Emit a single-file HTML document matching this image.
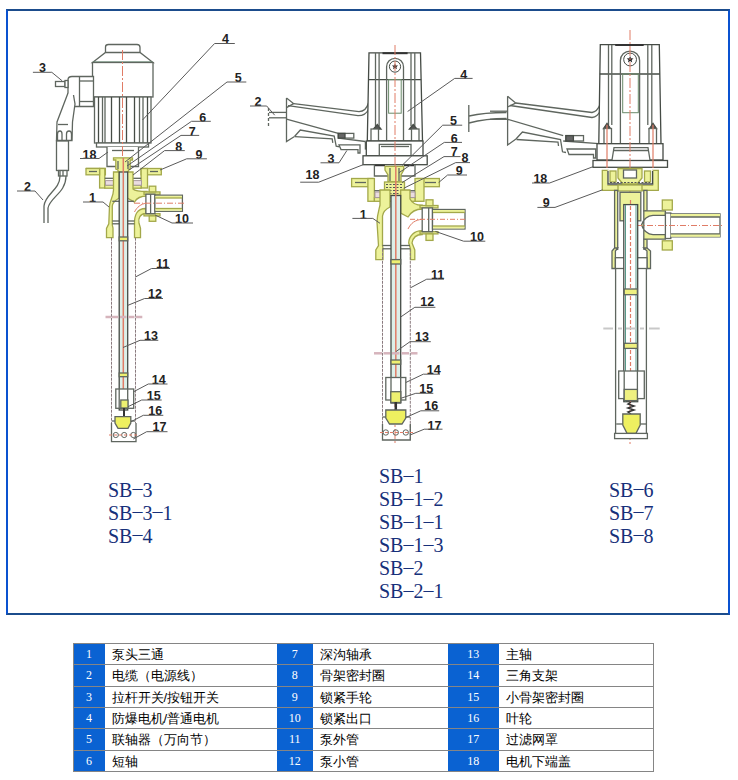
<!DOCTYPE html>
<html><head><meta charset="utf-8">
<style>
html,body{margin:0;padding:0;background:#fff;}
body{width:738px;height:780px;position:relative;overflow:hidden;font-family:"Liberation Sans",sans-serif;}
#frame{position:absolute;left:6px;top:9px;width:720px;height:602px;border-left:2px solid #0a52d0;border-right:2px solid #0a52d0;border-top:2px solid #1b4c8c;border-bottom:2px solid #1b4c8c;}
.lbl{position:absolute;font-family:"Liberation Serif",serif;font-size:20px;line-height:23px;color:#16307a;white-space:pre;}
.h{position:absolute;left:73px;width:581px;height:1px;background:#858585;}
.v{position:absolute;top:643px;width:1px;height:129px;background:#858585;}
.b{position:absolute;background:#0a62d2;color:#fff;font-family:"Liberation Serif",serif;font-size:12px;text-align:center;line-height:22px;}
.t{position:absolute;color:#000;font-size:13px;font-weight:500;line-height:22px;white-space:pre;}
svg{position:absolute;left:0;top:0;}
.lbl i{font-style:normal;position:relative;top:-1.7px;}
svg text{font-family:"Liberation Sans",sans-serif;}
</style></head><body>
<div id="frame"></div>
<svg width="738" height="620" viewBox="0 0 738 620">
<path d="M105.5,52.5 L105.5,47 Q105.5,44.5 108.5,44.5 L137,44.5 Q140,44.5 140,47.5 L140,52.5" fill="#fff" stroke="#5f665f" stroke-width="1.3" />
<polygon points="105.5,52.5 140,52.5 153,62.5 92.5,62.5" fill="#fff" stroke="#5f665f" stroke-width="1.3" />
<line x1="93" y1="62.5" x2="152.5" y2="62.5" stroke="#6f9a80" stroke-width="2" />
<rect x="92.5" y="62.5" width="60.5" height="34.5" fill="#fff" stroke="#5f665f" stroke-width="1.3" />
<rect x="94.5" y="97" width="56.5" height="46" fill="#fff" stroke="#5f665f" stroke-width="1.3" />
<line x1="98.5" y1="97" x2="98.5" y2="143" stroke="#454b45" stroke-width="1.3" />
<line x1="102.5" y1="97" x2="102.5" y2="143" stroke="#5f665f" stroke-width="1.3" />
<line x1="105" y1="97" x2="105" y2="143" stroke="#5f665f" stroke-width="1.3" />
<line x1="111.5" y1="97" x2="111.5" y2="143" stroke="#454b45" stroke-width="1.3" />
<line x1="119.5" y1="97" x2="119.5" y2="143" stroke="#454b45" stroke-width="1.3" />
<line x1="126.5" y1="97" x2="126.5" y2="143" stroke="#454b45" stroke-width="1.3" />
<line x1="134.5" y1="97" x2="134.5" y2="143" stroke="#454b45" stroke-width="1.3" />
<line x1="139.5" y1="97" x2="139.5" y2="143" stroke="#5f665f" stroke-width="1.3" />
<line x1="143" y1="97" x2="143" y2="143" stroke="#5f665f" stroke-width="1.3" />
<line x1="147.5" y1="97" x2="147.5" y2="143" stroke="#454b45" stroke-width="1.3" />
<rect x="96.5" y="143" width="52" height="4" fill="#fff" stroke="#5f665f" stroke-width="1.3" />
<path d="M107,147 L107,166.5 L138.5,166.5 L138.5,147" fill="#fff" stroke="#5f665f" stroke-width="1.3" />
<line x1="112" y1="150.5" x2="134" y2="150.5" stroke="#5f665f" stroke-width="1.3" />
<path d="M68,106.5 L68,80 Q68,76.5 72,76.5 L93.5,76.5 L93.5,106.5 Z" fill="#fff" stroke="#5f665f" stroke-width="1.3" />
<line x1="79.5" y1="76.5" x2="79.5" y2="106.5" stroke="#5f665f" stroke-width="1.3" />
<line x1="79.5" y1="81" x2="93.5" y2="81" stroke="#5f665f" stroke-width="1.3" />
<line x1="79.5" y1="101.5" x2="93.5" y2="101.5" stroke="#5f665f" stroke-width="1.3" />
<rect x="55.5" y="81.5" width="9.5" height="5" fill="#fff" stroke="#5f665f" stroke-width="1.3" />
<rect x="65" y="80.5" width="3" height="7" fill="#fff" stroke="#5f665f" stroke-width="1.3" />
<path d="M68,93 L57,122 L56.5,140.5 L72,140.5 L72.5,122 L75,104 L73.5,95" fill="#fff" stroke="#5f665f" stroke-width="1.3" />
<line x1="58" y1="124.5" x2="68" y2="124.5" stroke="#5f665f" stroke-width="1.3" />
<path d="M57.5,140 L57.5,134 Q57.5,131 60,131 Q62,131 62,134 L62,140" fill="none" stroke="#5f665f" stroke-width="1.3" />
<path d="M66.5,140 L66.5,134 Q66.5,131 69,131 Q71.5,131 71.5,134 L71.5,140" fill="none" stroke="#5f665f" stroke-width="1.3" />
<rect x="56.5" y="141" width="12" height="29.5" fill="#fff" stroke="#5f665f" stroke-width="1.3" />
<rect x="58.5" y="170.5" width="8.5" height="5.5" fill="#fff" stroke="#5f665f" stroke-width="1.3" />
<line x1="60" y1="171" x2="60" y2="176" stroke="#5f665f" stroke-width="1.3" />
<line x1="63" y1="171" x2="63" y2="176" stroke="#5f665f" stroke-width="1.3" />
<path d="M60,176 C60,190 45,194 44,206 L44,223" fill="none" stroke="#5f665f" stroke-width="1.3" />
<path d="M66,176 C66,193 50,197 48,208 L48,223" fill="none" stroke="#5f665f" stroke-width="1.3" />
<line x1="122.5" y1="50" x2="122.5" y2="180" stroke="#e07c66" stroke-width="1" stroke-dasharray="10,2,2,2"/>
<polygon points="113.5,157.8 132.5,157.8 132.5,160 130.2,160 130.2,169 128.4,170 128.4,176.5 118,176.5 118,170 115.8,169 115.8,160 113.5,160" fill="#edf29a" stroke="#a3a84a" stroke-width="1.3" />
<line x1="118" y1="161" x2="118" y2="169" stroke="#5f665f" stroke-width="1.3" />
<line x1="128" y1="161" x2="128" y2="169" stroke="#5f665f" stroke-width="1.3" />
<path d="M86,168.5 L105.4,168.5 L105.4,174.8 L99.6,174.8 Z" fill="#edf29a" stroke="#a3a84a" stroke-width="1.3" />
<rect x="99.6" y="168.5" width="5.2" height="19.5" fill="#edf29a" stroke="#a3a84a" stroke-width="1.3" />
<rect x="86" y="168.5" width="13.6" height="6.3" fill="#edf29a" stroke="#a3a84a" stroke-width="1.3" />
<line x1="89" y1="171.5" x2="97" y2="171.5" stroke="#5f665f" stroke-width="1.3" />
<rect x="141.1" y="168.5" width="20.2" height="6.3" fill="#edf29a" stroke="#a3a84a" stroke-width="1.3" />
<rect x="141.1" y="168.5" width="6.4" height="19.5" fill="#edf29a" stroke="#a3a84a" stroke-width="1.3" />
<line x1="150" y1="171.5" x2="158" y2="171.5" stroke="#5f665f" stroke-width="1.3" />
<line x1="104.8" y1="178.3" x2="114" y2="178.3" stroke="#5f665f" stroke-width="1.3" />
<line x1="133" y1="178.3" x2="141.1" y2="178.3" stroke="#5f665f" stroke-width="1.3" />
<rect x="104.8" y="185.2" width="36.3" height="3" fill="#edf29a" stroke="#a3a84a" stroke-width="1.3" />
<rect x="105.5" y="180.6" width="8.5" height="4.6" fill="#eadde0" stroke="#a89a9e" stroke-width="1" />
<rect x="133" y="180.6" width="8.5" height="4.6" fill="#eadde0" stroke="#a89a9e" stroke-width="1" />
<path d="M113.5,172 L119.2,172 L119.2,198 C116,200 112.5,202 112.3,206 L112.3,225 L113,228 L113,237.7 L106.5,237.7 L106.5,228.4 L108.8,223.8 L109.5,206 C110,200 113.5,196 113.5,190 Z" fill="#edf29a" stroke="#a3a84a" stroke-width="1.3" />
<path d="M127.3,172 L133,172 L133,189 C135,191 140,191.5 147,191.5 L147,196 C141,196 137,197.5 134.5,202 L127.3,198 Z" fill="#edf29a" stroke="#a3a84a" stroke-width="1.3" />
<path d="M145.7,208.5 L145.7,213.5 C140,214 138,218 139,223 L140.5,228.4 L140.5,237.7 L134.5,237.7 L134.5,225 C134,215 137,208.5 145.7,208.5 Z" fill="#edf29a" stroke="#a3a84a" stroke-width="1.3" />
<line x1="112.3" y1="201.3" x2="134" y2="201.3" stroke="#5f665f" stroke-width="1.3" />
<line x1="112.3" y1="221" x2="134.5" y2="221" stroke="#5f665f" stroke-width="1.3" />
<line x1="112.3" y1="223.8" x2="134.5" y2="223.8" stroke="#5f665f" stroke-width="1.3" />
<rect x="144" y="191.9" width="16" height="2.4" fill="#edf29a" stroke="#a3a84a" stroke-width="1.3" />
<rect x="144" y="213.7" width="16" height="2.2" fill="#edf29a" stroke="#a3a84a" stroke-width="1.3" />
<rect x="145.9" y="194.2" width="9" height="19.5" fill="#fff" stroke="#5f665f" stroke-width="1.3" />
<line x1="150.6" y1="194.2" x2="150.6" y2="213.7" stroke="#5f665f" stroke-width="1.3" />
<rect x="149.2" y="186.2" width="6.6" height="5.7" fill="#edf29a" stroke="#a3a84a" stroke-width="1.3" />
<rect x="149.2" y="215.9" width="6.6" height="5.4" fill="#edf29a" stroke="#a3a84a" stroke-width="1.3" />
<rect x="154.9" y="195.2" width="27.5" height="16.1" fill="#fff" stroke="#5f665f" stroke-width="1.3" />
<rect x="155.5" y="195.8" width="26.4" height="2.2" fill="#edf29a" stroke="none" stroke-width="0" />
<rect x="155.5" y="208.5" width="26.4" height="2.2" fill="#edf29a" stroke="none" stroke-width="0" />
<line x1="155" y1="198" x2="182" y2="198" stroke="#a3a84a" stroke-width="1.3" />
<line x1="155" y1="208.5" x2="182" y2="208.5" stroke="#a3a84a" stroke-width="1.3" />
<line x1="134" y1="203.2" x2="184" y2="203.2" stroke="#e07c66" stroke-width="1" stroke-dasharray="6,2,1,2"/>
<path d="M134.5,212 C137,207 141,204 146,203.2" fill="none" stroke="#e07c66" stroke-width="1" />
<line x1="111.5" y1="237.7" x2="111.5" y2="423" stroke="#8a7a7e" stroke-width="1" stroke-dasharray="3,1"/>
<line x1="135.5" y1="237.7" x2="135.5" y2="423" stroke="#8a7a7e" stroke-width="1" stroke-dasharray="3,1"/>
<rect x="119.2" y="172" width="8.5" height="238" fill="#dcefe8" stroke="#454b45" stroke-width="1.3" />
<line x1="123.3" y1="158" x2="123.3" y2="410" stroke="#e07c66" stroke-width="1.5" />
<rect x="119.2" y="237" width="8.5" height="3.8" fill="#eef070" stroke="#5f665f" stroke-width="1.3" />
<rect x="119.2" y="373" width="8.5" height="3.7" fill="#eef070" stroke="#5f665f" stroke-width="1.3" />
<line x1="105.5" y1="317" x2="111" y2="317" stroke="#d6b4bc" stroke-width="2.5" />
<line x1="112" y1="317" x2="118.5" y2="317" stroke="#d6b4bc" stroke-width="2.5" />
<line x1="120" y1="317" x2="126.5" y2="317" stroke="#d6b4bc" stroke-width="2.5" />
<line x1="128" y1="317" x2="134.5" y2="317" stroke="#d6b4bc" stroke-width="2.5" />
<line x1="136" y1="317" x2="142.3" y2="317" stroke="#d6b4bc" stroke-width="2.5" />
<rect x="115.8" y="389" width="17.9" height="19.3" fill="#fff" stroke="#5f665f" stroke-width="1.3" />
<line x1="119.2" y1="389" x2="119.2" y2="408.3" stroke="#5f665f" stroke-width="1.3" />
<line x1="127.7" y1="389" x2="127.7" y2="408.3" stroke="#5f665f" stroke-width="1.3" />
<rect x="120.8" y="400" width="7.2" height="8" fill="#eef070" stroke="#5f665f" stroke-width="1.3" />
<line x1="124" y1="408" x2="124" y2="420" stroke="#333" stroke-width="2" />
<path d="M115,416.7 L130.8,416.7 L130.8,423 L128,428.3 L118,428.3 L115,423 Z" fill="#eef060" stroke="#5f665f" stroke-width="1.3" />
<line x1="112" y1="421" x2="115" y2="421" stroke="#5f665f" stroke-width="1.3" />
<line x1="131" y1="421" x2="135" y2="421" stroke="#5f665f" stroke-width="1.3" />
<path d="M111.5,423 L111.5,441.7 L136,441.7 L136,423" fill="none" stroke="#5f665f" stroke-width="1.3" />
<circle cx="115.8" cy="435" r="2.6" fill="none" stroke="#5f665f" stroke-width="1"/>
<circle cx="124.2" cy="435" r="2.6" fill="none" stroke="#5f665f" stroke-width="1"/>
<circle cx="133.3" cy="435" r="2.6" fill="none" stroke="#5f665f" stroke-width="1"/>
<line x1="109" y1="435" x2="138" y2="435" stroke="#e07c66" stroke-width="1" stroke-dasharray="3,2"/>
<text x="222" y="43.2" font-size="12.5" fill="#222222" font-weight="bold">4</text>
<polyline points="234.8,43.5 214.6,43.5 142.5,120" fill="none" stroke="#5a5a5a" stroke-width="1" />
<text x="234.8" y="81.8" font-size="12.5" fill="#222222" font-weight="bold">5</text>
<polyline points="246.3,82 227,82 125,162" fill="none" stroke="#5a5a5a" stroke-width="1" />
<text x="199.2" y="122.2" font-size="12.5" fill="#222222" font-weight="bold">6</text>
<polyline points="210.8,121.3 191.5,121.3 127,166" fill="none" stroke="#5a5a5a" stroke-width="1" />
<text x="188.7" y="136.2" font-size="12.5" fill="#222222" font-weight="bold">7</text>
<polyline points="199.2,135.4 181,135.4 129,170" fill="none" stroke="#5a5a5a" stroke-width="1" />
<text x="175.2" y="151.0" font-size="12.5" fill="#222222" font-weight="bold">8</text>
<polyline points="184.8,150.6 164.6,150.6 133,175" fill="none" stroke="#5a5a5a" stroke-width="1" />
<text x="195.4" y="158.7" font-size="12.5" fill="#222222" font-weight="bold">9</text>
<polyline points="206.9,158.8 186.7,158.8 160,170" fill="none" stroke="#5a5a5a" stroke-width="1" />
<text x="39" y="72.2" font-size="12.5" fill="#222222" font-weight="bold">3</text>
<polyline points="32.9,72.3 51.8,72.3 62,80.7" fill="none" stroke="#5a5a5a" stroke-width="1" />
<text x="24" y="190.79999999999998" font-size="12.5" fill="#222222" font-weight="bold">2</text>
<polyline points="17,191 35,191 43,200" fill="none" stroke="#5a5a5a" stroke-width="1" />
<text x="82.5" y="159.0" font-size="12.5" fill="#222222" font-weight="bold">18</text>
<polyline points="80,158.5 99,158.5 108,152" fill="none" stroke="#5a5a5a" stroke-width="1" />
<text x="89" y="201.7" font-size="12.5" fill="#222222" font-weight="bold">1</text>
<polyline points="83,202 103,202 109,207" fill="none" stroke="#5a5a5a" stroke-width="1" />
<text x="175" y="223.1" font-size="12.5" fill="#222222" font-weight="bold">10</text>
<polyline points="193,223 172,223 155,215" fill="none" stroke="#5a5a5a" stroke-width="1" />
<text x="156" y="268.2" font-size="12.5" fill="#222222" font-weight="bold">11</text>
<polyline points="170,268.5 151.5,268.5 135.4,277" fill="none" stroke="#5a5a5a" stroke-width="1" />
<text x="148" y="298.2" font-size="12.5" fill="#222222" font-weight="bold">12</text>
<polyline points="163,298.5 144.6,298.5 127.7,305.4" fill="none" stroke="#5a5a5a" stroke-width="1" />
<text x="144" y="340.2" font-size="12.5" fill="#222222" font-weight="bold">13</text>
<polyline points="158.3,340.3 140,340.3 123,347.5" fill="none" stroke="#5a5a5a" stroke-width="1" />
<text x="151.7" y="383.7" font-size="12.5" fill="#222222" font-weight="bold">14</text>
<polyline points="167.5,384 148.3,384 133.7,391.7" fill="none" stroke="#5a5a5a" stroke-width="1" />
<text x="146.7" y="399.5" font-size="12.5" fill="#222222" font-weight="bold">15</text>
<polyline points="161.7,400 141.7,400 128,406.7" fill="none" stroke="#5a5a5a" stroke-width="1" />
<text x="148.3" y="414.5" font-size="12.5" fill="#222222" font-weight="bold">16</text>
<polyline points="163.3,415.3 143.3,415.3 131,421.7" fill="none" stroke="#5a5a5a" stroke-width="1" />
<text x="152.5" y="431.2" font-size="12.5" fill="#222222" font-weight="bold">17</text>
<polyline points="167.5,431.7 146.7,431.7 133.3,439" fill="none" stroke="#5a5a5a" stroke-width="1" />
<line x1="468.8" y1="105" x2="468.8" y2="132" stroke="#5f665f" stroke-width="1.3" />
<path d="M469,116 C482,113 495,112.5 506.5,112.5" fill="none" stroke="#5f665f" stroke-width="1.3" />
<path d="M469,123 C482,119.5 495,118.5 506.5,118.5" fill="none" stroke="#5f665f" stroke-width="1.3" />
<line x1="268.5" y1="108" x2="268.5" y2="128" stroke="#5f665f" stroke-width="1.3" stroke-dasharray="3,2"/>
<line x1="269" y1="112.4" x2="286.5" y2="112.4" stroke="#5f665f" stroke-width="1.3" />
<line x1="269" y1="117.8" x2="286.5" y2="117.8" stroke="#5f665f" stroke-width="1.3" />
<path d="M286.5,98.1 L286.5,141.5 L294.5,136.5" fill="none" stroke="#5f665f" stroke-width="1.3" />
<path d="M286.5,98.1 L293.6,103.6 L286.5,107.6" fill="none" stroke="#5f665f" stroke-width="1.3" />
<path d="M293.6,103.6 L359,111.7 C364,111.5 367,108 368.5,103" fill="none" stroke="#5f665f" stroke-width="1.3" />
<path d="M288,105.6 L358,115.7 C364,115.7 367,113 368.8,109" fill="none" stroke="#5f665f" stroke-width="1.3" />
<path d="M286.5,119.1 L338.3,133.4" fill="none" stroke="#5f665f" stroke-width="1.3" />
<path d="M294.5,136.5 L300.3,130 L334.2,136 L336.2,146.2 L339.6,146.9" fill="none" stroke="#5f665f" stroke-width="1.3" />
<path d="M294.9,136.7 L332.2,138.8 L332.8,142.8" fill="none" stroke="#5f665f" stroke-width="1.3" />
<line x1="338.3" y1="138.1" x2="365.4" y2="141.5" stroke="#5f665f" stroke-width="1.3" />
<rect x="338.3" y="133.4" width="15.5" height="4.7" fill="#fff" stroke="#5f665f" stroke-width="1.3" />
<rect x="338.3" y="133.4" width="6.7" height="4.7" fill="#666" stroke="#454b45" stroke-width="1.3" />
<path d="M339,144.9 L360,144.9 L360,153 L358,153 L358,149.6 L341,149.6 Z" fill="#fff" stroke="#5f665f" stroke-width="1.3" />
<line x1="365.4" y1="141.5" x2="365.4" y2="149.6" stroke="#5f665f" stroke-width="1.3" />
<path d="M369,52.9 L420.5,52.9 L422.5,141 L367.3,141 Z" fill="#fff" stroke="#454b45" stroke-width="1.3" />
<line x1="382.5" y1="53.2" x2="407.6" y2="53.2" stroke="#333" stroke-width="2" />
<line x1="368.4" y1="79.6" x2="421.2" y2="79.6" stroke="#454b45" stroke-width="1.3" />
<line x1="375.5" y1="53" x2="375.5" y2="126" stroke="#5f665f" stroke-width="1.3" />
<line x1="379.1" y1="53" x2="379.1" y2="126" stroke="#5f665f" stroke-width="1.3" />
<line x1="411" y1="53" x2="411" y2="126" stroke="#5f665f" stroke-width="1.3" />
<line x1="414.8" y1="53" x2="414.8" y2="126" stroke="#5f665f" stroke-width="1.3" />
<path d="M386.6,141 L386.6,66.8 A8.45,8.45 0 0 1 403.5,66.8 L403.5,141" fill="none" stroke="#5f665f" stroke-width="1.3" />
<circle cx="395" cy="66.6" r="5.6" fill="none" stroke="#454b45" stroke-width="1"/>
<polygon points="395.0,63.4 395.85,65.44 398.04,65.61 396.37,67.04 396.88,69.19 395.0,68.04 393.12,69.19 393.63,67.04 391.96,65.61 394.15,65.44" fill="#222" stroke="none" stroke-width="0" />
<rect x="388.6" y="79.6" width="12.6" height="33.6" fill="none" stroke="#6a8a6a" stroke-width="1" />
<polygon points="373.5,129 377.3,124.5 381,129" fill="#555" stroke="#454b45" stroke-width="1.3" />
<polygon points="409.5,129 413.2,124.5 417,129" fill="#555" stroke="#454b45" stroke-width="1.3" />
<rect x="371" y="129" width="7.5" height="12" fill="#fff" stroke="#5f665f" stroke-width="1.3" />
<rect x="411.5" y="129" width="7.5" height="12" fill="#fff" stroke="#5f665f" stroke-width="1.3" />
<rect x="366.3" y="141" width="56.7" height="14.8" fill="#fff" stroke="#454b45" stroke-width="1.3" />
<rect x="379.3" y="144.4" width="31.7" height="11.4" fill="#fff" stroke="#5f665f" stroke-width="1.3" />
<line x1="381" y1="146.5" x2="409" y2="146.5" stroke="#5f665f" stroke-width="1.3" />
<rect x="363" y="155.8" width="64.2" height="8.9" fill="#fff" stroke="#454b45" stroke-width="1.3" />
<path d="M374.4,164.7 L374.4,176 L415,176 L415,164.7" fill="none" stroke="#5f665f" stroke-width="1.3" />
<line x1="375" y1="165.5" x2="385" y2="165.5" stroke="#333" stroke-width="1.5" />
<line x1="404" y1="165.5" x2="414" y2="165.5" stroke="#333" stroke-width="1.5" />
<line x1="395" y1="45" x2="395" y2="445" stroke="#e07c66" stroke-width="1" stroke-dasharray="10,2,2,2"/>
<path d="M385,166.3 L403.7,166.3 L403.7,170 L401,175 L401,181.8 L388,181.8 L388,175 L385,170 Z" fill="#edf29a" stroke="#a3a84a" stroke-width="1.3" />
<line x1="390" y1="168" x2="390" y2="181" stroke="#5f665f" stroke-width="1.3" />
<line x1="399" y1="168" x2="399" y2="181" stroke="#5f665f" stroke-width="1.3" />
<rect x="384.5" y="182" width="20" height="13.5" fill="#edf29a" stroke="#a3a84a" stroke-width="1.3" />
<line x1="386" y1="184.5" x2="403" y2="184.5" stroke="#555" stroke-width="1" stroke-dasharray="2,1.5"/>
<line x1="386" y1="187.5" x2="403" y2="187.5" stroke="#555" stroke-width="1" stroke-dasharray="2,1.5"/>
<line x1="386" y1="190.5" x2="403" y2="190.5" stroke="#555" stroke-width="1" stroke-dasharray="2,1.5"/>
<line x1="386" y1="193.5" x2="403" y2="193.5" stroke="#555" stroke-width="1" stroke-dasharray="2,1.5"/>
<rect x="351.6" y="178.5" width="21.2" height="8.2" fill="#edf29a" stroke="#a3a84a" stroke-width="1.3" />
<rect x="367.9" y="178.5" width="6.5" height="22.8" fill="#edf29a" stroke="#a3a84a" stroke-width="1.3" />
<line x1="355" y1="182.5" x2="366" y2="182.5" stroke="#5f665f" stroke-width="1.3" />
<rect x="417.5" y="178.5" width="21.9" height="8.2" fill="#edf29a" stroke="#a3a84a" stroke-width="1.3" />
<rect x="415" y="178.5" width="9" height="22.8" fill="#edf29a" stroke="#a3a84a" stroke-width="1.3" />
<line x1="425" y1="182.5" x2="436" y2="182.5" stroke="#5f665f" stroke-width="1.3" />
<line x1="374.4" y1="190.7" x2="380" y2="190.7" stroke="#5f665f" stroke-width="1.3" />
<line x1="410" y1="190.7" x2="415" y2="190.7" stroke="#5f665f" stroke-width="1.3" />
<rect x="374.4" y="197.5" width="40.6" height="3.8" fill="#edf29a" stroke="#a3a84a" stroke-width="1.3" />
<rect x="375" y="192" width="6" height="5.5" fill="#eadde0" stroke="#a89a9e" stroke-width="1" />
<rect x="409" y="192" width="6" height="5.5" fill="#eadde0" stroke="#a89a9e" stroke-width="1" />
<path d="M380,190 L390,190 L390,207 C386,209 383,212 382.5,216 L382.5,245.5 L383,248.8 L383,259.6 L375.8,259.6 L375.8,250 L378.5,245.5 L377,222 C377,215 379,210 380,205 Z" fill="#edf29a" stroke="#a3a84a" stroke-width="1.3" />
<path d="M400.7,190 L410,190 L410,199 C412,203 416,205.2 422,205.2 L422.2,205.2 L422.2,209 C415,209 411,212 408,217 L400.7,213 Z" fill="#edf29a" stroke="#a3a84a" stroke-width="1.3" />
<path d="M422.2,230.7 L422.2,234.5 C416,234.5 413,237 412,243 L414.8,250 L414.8,259.6 L410.5,259.6 L410.5,248.8 L408.7,243 C409,236 414,230.7 422.2,230.7 Z" fill="#edf29a" stroke="#a3a84a" stroke-width="1.3" />
<line x1="382.5" y1="245.5" x2="410" y2="245.5" stroke="#5f665f" stroke-width="1.3" />
<line x1="382.5" y1="248.8" x2="410" y2="248.8" stroke="#5f665f" stroke-width="1.3" />
<rect x="420" y="205.5" width="18" height="2.4" fill="#edf29a" stroke="#a3a84a" stroke-width="1.3" />
<rect x="420" y="231.7" width="18" height="2.2" fill="#edf29a" stroke="#a3a84a" stroke-width="1.3" />
<rect x="422.2" y="207.9" width="10.3" height="23.8" fill="#fff" stroke="#5f665f" stroke-width="1.3" />
<line x1="428.7" y1="207.9" x2="428.7" y2="231.7" stroke="#5f665f" stroke-width="1.3" />
<rect x="426" y="199.8" width="7" height="6" fill="#edf29a" stroke="#a3a84a" stroke-width="1.3" />
<rect x="426" y="233.9" width="7" height="6.5" fill="#edf29a" stroke="#a3a84a" stroke-width="1.3" />
<rect x="432.5" y="209.5" width="32.5" height="19.5" fill="#fff" stroke="#5f665f" stroke-width="1.3" />
<rect x="433" y="210" width="31.5" height="2.3" fill="#edf29a" stroke="none" stroke-width="0" />
<rect x="433" y="226.2" width="31.5" height="2.3" fill="#edf29a" stroke="none" stroke-width="0" />
<line x1="433" y1="212.5" x2="465" y2="212.5" stroke="#a3a84a" stroke-width="1.3" />
<line x1="433" y1="226" x2="465" y2="226" stroke="#a3a84a" stroke-width="1.3" />
<line x1="410" y1="219.3" x2="466" y2="219.3" stroke="#e07c66" stroke-width="1" stroke-dasharray="5,2,1,2"/>
<path d="M408,229 C411,223 415,220 422,219.3" fill="none" stroke="#e07c66" stroke-width="1" />
<line x1="382.5" y1="248.8" x2="382.5" y2="440" stroke="#8a7a7e" stroke-width="1" stroke-dasharray="3,1"/>
<line x1="410.3" y1="248.8" x2="410.3" y2="440" stroke="#8a7a7e" stroke-width="1" stroke-dasharray="3,1"/>
<rect x="391" y="195.5" width="9.7" height="207.5" fill="#dcefe8" stroke="#454b45" stroke-width="1.3" />
<line x1="395.8" y1="166" x2="395.8" y2="403" stroke="#e07c66" stroke-width="1.5" />
<rect x="391" y="259.6" width="9.7" height="4.4" fill="#eef070" stroke="#5f665f" stroke-width="1.3" />
<rect x="391" y="360" width="9.7" height="4.2" fill="#eef070" stroke="#5f665f" stroke-width="1.3" />
<line x1="374" y1="353.3" x2="382" y2="353.3" stroke="#d6b4bc" stroke-width="2.5" />
<line x1="383.5" y1="353.3" x2="390" y2="353.3" stroke="#d6b4bc" stroke-width="2.5" />
<line x1="392" y1="353.3" x2="399.5" y2="353.3" stroke="#d6b4bc" stroke-width="2.5" />
<line x1="401.5" y1="353.3" x2="409" y2="353.3" stroke="#d6b4bc" stroke-width="2.5" />
<line x1="411" y1="353.3" x2="417.5" y2="353.3" stroke="#d6b4bc" stroke-width="2.5" />
<rect x="385.8" y="377.5" width="20" height="22.5" fill="#fff" stroke="#5f665f" stroke-width="1.3" />
<line x1="391" y1="377.5" x2="391" y2="400" stroke="#5f665f" stroke-width="1.3" />
<line x1="400.7" y1="377.5" x2="400.7" y2="400" stroke="#5f665f" stroke-width="1.3" />
<rect x="390.8" y="391.7" width="10" height="10.8" fill="#eef070" stroke="#5f665f" stroke-width="1.3" />
<line x1="395.8" y1="402" x2="395.8" y2="412" stroke="#333" stroke-width="2.5" />
<path d="M385.8,410 L405.8,410 L405.8,418 L402,424 L389.5,424 L385.8,418 Z" fill="#eef060" stroke="#5f665f" stroke-width="1.3" />
<line x1="382.5" y1="417" x2="385.8" y2="417" stroke="#5f665f" stroke-width="1.3" />
<line x1="405.8" y1="417" x2="410" y2="417" stroke="#5f665f" stroke-width="1.3" />
<path d="M382.5,424 L382.5,440 L410.3,440 L410.3,424" fill="none" stroke="#5f665f" stroke-width="1.3" />
<circle cx="385.8" cy="432.5" r="2.7" fill="none" stroke="#5f665f" stroke-width="1"/>
<circle cx="395.8" cy="432.5" r="2.7" fill="none" stroke="#5f665f" stroke-width="1"/>
<circle cx="405.8" cy="432.5" r="2.7" fill="none" stroke="#5f665f" stroke-width="1"/>
<line x1="380" y1="432.5" x2="413" y2="432.5" stroke="#e07c66" stroke-width="1" stroke-dasharray="3,2"/>
<text x="254.4" y="105.9" font-size="12.5" fill="#222222" font-weight="bold">2</text>
<polyline points="250,106 266.7,106 274.7,115.2" fill="none" stroke="#5a5a5a" stroke-width="1" />
<text x="327.5" y="163.1" font-size="12.5" fill="#222222" font-weight="bold">3</text>
<polyline points="320.5,162.8 339,162.8 346.9,150.5" fill="none" stroke="#5a5a5a" stroke-width="1" />
<text x="305.5" y="179.0" font-size="12.5" fill="#222222" font-weight="bold">18</text>
<polyline points="300.2,182.2 318.7,182.2 363.6,164.5" fill="none" stroke="#5a5a5a" stroke-width="1" />
<text x="460.2" y="78.5" font-size="12.5" fill="#222222" font-weight="bold">4</text>
<polyline points="472.6,78.4 454.7,78.4 407.6,111.5" fill="none" stroke="#5a5a5a" stroke-width="1" />
<text x="450" y="125.2" font-size="12.5" fill="#222222" font-weight="bold">5</text>
<polyline points="462.2,125.2 442.7,125.2 402,165.5" fill="none" stroke="#5a5a5a" stroke-width="1" />
<text x="450.8" y="143.2" font-size="12.5" fill="#222222" font-weight="bold">6</text>
<polyline points="462,142.4 444.3,142.4 398.8,172.8" fill="none" stroke="#5a5a5a" stroke-width="1" />
<text x="450.8" y="156.2" font-size="12.5" fill="#222222" font-weight="bold">7</text>
<polyline points="460.5,156.6 444,156.6 402,182.6" fill="none" stroke="#5a5a5a" stroke-width="1" />
<text x="461.4" y="161.79999999999998" font-size="12.5" fill="#222222" font-weight="bold">8</text>
<polyline points="470,162.6 455.7,162.6 403.7,188.3" fill="none" stroke="#5a5a5a" stroke-width="1" />
<text x="455.7" y="174.89999999999998" font-size="12.5" fill="#222222" font-weight="bold">9</text>
<polyline points="467,175 447.6,175 438.6,182.6" fill="none" stroke="#5a5a5a" stroke-width="1" />
<text x="359.8" y="218.79999999999998" font-size="12.5" fill="#222222" font-weight="bold">1</text>
<polyline points="352.4,218.4 372.8,218.4 380,223.3" fill="none" stroke="#5a5a5a" stroke-width="1" />
<text x="470" y="241.2" font-size="12.5" fill="#222222" font-weight="bold">10</text>
<polyline points="485.3,241.2 463.6,241.2 435.4,231.4" fill="none" stroke="#5a5a5a" stroke-width="1" />
<text x="431" y="279.2" font-size="12.5" fill="#222222" font-weight="bold">11</text>
<polyline points="444,279.2 426.7,279.2 410.5,287.8" fill="none" stroke="#5a5a5a" stroke-width="1" />
<text x="420.2" y="306.4" font-size="12.5" fill="#222222" font-weight="bold">12</text>
<polyline points="435.4,307.3 414.8,307.3 400.7,317" fill="none" stroke="#5a5a5a" stroke-width="1" />
<text x="415" y="341.2" font-size="12.5" fill="#222222" font-weight="bold">13</text>
<polyline points="430.8,341.7 410,341.7 395.8,351.7" fill="none" stroke="#5a5a5a" stroke-width="1" />
<text x="426.7" y="373.7" font-size="12.5" fill="#222222" font-weight="bold">14</text>
<polyline points="440,374.2 423.3,374.2 405.8,382.5" fill="none" stroke="#5a5a5a" stroke-width="1" />
<text x="419.2" y="392.9" font-size="12.5" fill="#222222" font-weight="bold">15</text>
<polyline points="433.3,393.3 415.8,393.3 400.8,398.3" fill="none" stroke="#5a5a5a" stroke-width="1" />
<text x="424.2" y="410.4" font-size="12.5" fill="#222222" font-weight="bold">16</text>
<polyline points="439.2,410.8 420.8,410.8 405.8,417.5" fill="none" stroke="#5a5a5a" stroke-width="1" />
<text x="427.5" y="429.5" font-size="12.5" fill="#222222" font-weight="bold">17</text>
<polyline points="442.5,429.2 424.2,429.2 410,435" fill="none" stroke="#5a5a5a" stroke-width="1" />
<line x1="490" y1="111.2" x2="507.6" y2="111.2" stroke="#5f665f" stroke-width="1.3" />
<line x1="490" y1="119.3" x2="507.6" y2="119.3" stroke="#5f665f" stroke-width="1.3" />
<path d="M507.6,96.3 L507.6,145 L516,139" fill="none" stroke="#5f665f" stroke-width="1.3" />
<path d="M507.6,96.3 L515.7,103 L507.6,107" fill="none" stroke="#5f665f" stroke-width="1.3" />
<path d="M515.7,103 L592,112.5 C596,112 598.5,108.5 600.3,104" fill="none" stroke="#5f665f" stroke-width="1.3" />
<path d="M510,105.5 L592,117.5 C597,117 599,114 600.8,110" fill="none" stroke="#5f665f" stroke-width="1.3" />
<line x1="507.6" y1="119.3" x2="563.2" y2="135.6" stroke="#5f665f" stroke-width="1.3" />
<path d="M516,139 L522.4,132 L560.5,139.5 L562.5,151.8 L566,152.5" fill="none" stroke="#5f665f" stroke-width="1.3" />
<path d="M516.5,139.5 L558,142 L558.5,146" fill="none" stroke="#5f665f" stroke-width="1.3" />
<line x1="563.2" y1="141" x2="598.8" y2="143.7" stroke="#5f665f" stroke-width="1.3" />
<rect x="565.9" y="135.6" width="17.6" height="5.4" fill="#fff" stroke="#5f665f" stroke-width="1.3" />
<rect x="565.9" y="135.6" width="7.5" height="5.4" fill="#666" stroke="#454b45" stroke-width="1.3" />
<path d="M567,149 L595.7,149 L595.7,158 L593.5,158 L593.5,154.5 L569,154.5 Z" fill="#fff" stroke="#5f665f" stroke-width="1.3" />
<path d="M600.3,44.6 L659.3,44.6 L661,143.7 L598.8,143.7 Z" fill="#fff" stroke="#454b45" stroke-width="1.3" />
<line x1="615.2" y1="45" x2="643.7" y2="45" stroke="#333" stroke-width="2" />
<line x1="599.8" y1="74" x2="659.8" y2="74" stroke="#454b45" stroke-width="1.3" />
<line x1="608.5" y1="45" x2="608.5" y2="125" stroke="#5f665f" stroke-width="1.3" />
<line x1="611.8" y1="45" x2="611.8" y2="125" stroke="#5f665f" stroke-width="1.3" />
<line x1="647.8" y1="45" x2="647.8" y2="125" stroke="#5f665f" stroke-width="1.3" />
<line x1="651.8" y1="45" x2="651.8" y2="125" stroke="#5f665f" stroke-width="1.3" />
<path d="M620.4,143.7 L620.4,60.6 A9.6,9.6 0 0 1 639.6,60.6 L639.6,143.7" fill="none" stroke="#5f665f" stroke-width="1.3" />
<circle cx="630.1" cy="59.5" r="6.4" fill="none" stroke="#454b45" stroke-width="1"/>
<polygon points="630.1,55.9 631.05,58.19 633.52,58.39 631.64,60.0 632.22,62.41 630.1,61.12 627.98,62.41 628.56,60.0 626.68,58.39 629.15,58.19" fill="#222" stroke="none" stroke-width="0" />
<rect x="622.7" y="74" width="15.6" height="38.7" fill="none" stroke="#6a8a6a" stroke-width="1" />
<polygon points="603.5,128.5 607,123.5 610.5,128.5" fill="#555" stroke="#454b45" stroke-width="1.3" />
<polygon points="649.5,128.5 653,123.5 656.5,128.5" fill="#555" stroke="#454b45" stroke-width="1.3" />
<rect x="604" y="128.5" width="7.5" height="15.2" fill="#fff" stroke="#5f665f" stroke-width="1.3" />
<rect x="649" y="128.5" width="7.5" height="15.2" fill="#fff" stroke="#5f665f" stroke-width="1.3" />
<rect x="597" y="143.7" width="66" height="16.3" fill="#fff" stroke="#454b45" stroke-width="1.3" />
<path d="M612,160 L614,147.7 L648,147.7 L650,160" fill="#fff" stroke="#5f665f" stroke-width="1.3" />
<line x1="614" y1="150.5" x2="648" y2="150.5" stroke="#5f665f" stroke-width="1.3" />
<rect x="593" y="160.5" width="74.5" height="6.8" fill="#fff" stroke="#454b45" stroke-width="1.3" />
<line x1="607" y1="124.7" x2="607" y2="168" stroke="#e07c66" stroke-width="1.2" />
<line x1="653" y1="124.7" x2="653" y2="168" stroke="#e07c66" stroke-width="1.2" />
<line x1="630" y1="30" x2="630" y2="445" stroke="#e07c66" stroke-width="1" stroke-dasharray="10,2,2,2"/>
<path d="M602.3,170.4 L608,170.4 L608,185 L652.6,185 L652.6,170.4 L658.3,170.4 L658.3,190.4 L602.3,190.4 Z" fill="#edf29a" stroke="#a3a84a" stroke-width="1.3" />
<rect x="607.5" y="170.4" width="45.6" height="14.6" fill="#fff" stroke="none" stroke-width="0" />
<path d="M608,171 L608,184 L652.6,184 L652.6,171" fill="none" stroke="#454b45" stroke-width="1.3" />
<rect x="610" y="171" width="6" height="11" fill="#edf29a" stroke="#a3a84a" stroke-width="1.3" />
<rect x="644.5" y="171" width="6" height="11" fill="#edf29a" stroke="#a3a84a" stroke-width="1.3" />
<path d="M618,168.5 L642,168.5 L642,178 L637,184 L623,184 L618,178 Z" fill="#edf29a" stroke="#a3a84a" stroke-width="1.3" />
<rect x="623.5" y="170" width="13" height="8" fill="#fff" stroke="#5f665f" stroke-width="1.3" />
<line x1="610" y1="182.5" x2="650" y2="182.5" stroke="#555" stroke-width="1" stroke-dasharray="2,1.5"/>
<rect x="618" y="185" width="24" height="6" fill="#edf29a" stroke="#a3a84a" stroke-width="1.3" />
<rect x="614.6" y="190.4" width="3.1" height="59" fill="#edf29a" stroke="#5f665f" stroke-width="1.3" />
<polygon points="614.6,248 612,251 612,268.5 615.4,268.5 615.4,251 617.7,248" fill="#edf29a" stroke="#5f665f" stroke-width="1.3" />
<rect x="643.8" y="190.4" width="3.2" height="20.5" fill="#edf29a" stroke="#5f665f" stroke-width="1.3" />
<rect x="643.8" y="239.2" width="3.2" height="10" fill="#edf29a" stroke="#5f665f" stroke-width="1.3" />
<polygon points="647,248 650.5,251 650.5,268.5 647,268.5 647,251 643.8,248" fill="#edf29a" stroke="#5f665f" stroke-width="1.3" />
<rect x="615.4" y="257.7" width="31.6" height="10.8" fill="#fff" stroke="#5f665f" stroke-width="1.3" />
<rect x="620" y="192.3" width="20.8" height="28.5" fill="#edf29a" stroke="#5f665f" stroke-width="1.3" />
<path d="M643.8,210.8 L665.4,210.8 L665.4,215.4 L653,215.4 C647,215.8 643.5,219.5 641.5,225 C643.5,230.5 647,234.2 653,234.6 L665.4,234.6 L665.4,239.2 L643.8,239.2 Z" fill="#edf29a" stroke="#5f665f" stroke-width="1.3" />
<rect x="665.4" y="213" width="5.4" height="25.5" fill="#fff" stroke="#5f665f" stroke-width="1.3" />
<rect x="662.3" y="200" width="10" height="10" fill="#edf29a" stroke="#a3a84a" stroke-width="1.3" />
<rect x="662.3" y="240.8" width="10" height="9.2" fill="#edf29a" stroke="#a3a84a" stroke-width="1.3" />
<path d="M670.8,214 L720,214 L720,236.8 L670.8,236.8" fill="#fff" stroke="#5f665f" stroke-width="1.3" />
<rect x="670.8" y="214" width="49.2" height="3" fill="#edf29a" stroke="none" stroke-width="0" />
<rect x="670.8" y="233.8" width="49.2" height="3" fill="#edf29a" stroke="none" stroke-width="0" />
<line x1="670.8" y1="217" x2="720" y2="217" stroke="#5f665f" stroke-width="1.3" />
<line x1="670.8" y1="233.8" x2="720" y2="233.8" stroke="#5f665f" stroke-width="1.3" />
<line x1="625" y1="225.5" x2="722" y2="225.5" stroke="#e07c66" stroke-width="1" stroke-dasharray="6,2,1,2"/>
<line x1="615.6" y1="268.5" x2="615.6" y2="433.4" stroke="#5f665f" stroke-width="1.3" />
<line x1="646.4" y1="268.5" x2="646.4" y2="433.4" stroke="#5f665f" stroke-width="1.3" />
<rect x="623.8" y="204.6" width="13.9" height="197.1" fill="#fff" stroke="#454b45" stroke-width="1.3" />
<line x1="625.5" y1="205" x2="625.5" y2="401.5" stroke="#5a9a8a" stroke-width="1" />
<line x1="636" y1="205" x2="636" y2="401.5" stroke="#5a9a8a" stroke-width="1" />
<line x1="630.5" y1="200" x2="630.5" y2="402" stroke="#e07c66" stroke-width="1.2" stroke-dasharray="4,2"/>
<rect x="624.2" y="289" width="13.2" height="5.7" fill="#eef080" stroke="#5f665f" stroke-width="1.3" />
<rect x="624.2" y="343.3" width="13.2" height="5.1" fill="#eef080" stroke="#5f665f" stroke-width="1.3" />
<line x1="603.3" y1="328.5" x2="613" y2="328.5" stroke="#c8c8c8" stroke-width="2" />
<line x1="618" y1="328.5" x2="622" y2="328.5" stroke="#c8c8c8" stroke-width="2" />
<line x1="626" y1="328.5" x2="636" y2="328.5" stroke="#c8c8c8" stroke-width="2" />
<line x1="640" y1="328.5" x2="644" y2="328.5" stroke="#c8c8c8" stroke-width="2" />
<line x1="649" y1="328.5" x2="659.7" y2="328.5" stroke="#c8c8c8" stroke-width="2" />
<rect x="618.7" y="371" width="25.6" height="27.6" fill="#fff" stroke="#5f665f" stroke-width="1.3" />
<line x1="624.2" y1="371" x2="624.2" y2="398.6" stroke="#5f665f" stroke-width="1.3" />
<line x1="637.4" y1="371" x2="637.4" y2="398.6" stroke="#5f665f" stroke-width="1.3" />
<rect x="624.2" y="389.4" width="13.2" height="11.2" fill="#eef080" stroke="#5f665f" stroke-width="1.3" />
<path d="M631,402 L628,404 L634,406 L628,408 L634,410 L628,412 L631,414" fill="none" stroke="#333" stroke-width="1.5" />
<path d="M622.8,414 L640.2,414 L640.2,425 L636,433.4 L627,433.4 L622.8,425 Z" fill="#eef060" stroke="#5f665f" stroke-width="1.3" />
<line x1="616.2" y1="424" x2="622.8" y2="424" stroke="#5f665f" stroke-width="1.3" />
<line x1="640.2" y1="424" x2="646.4" y2="424" stroke="#5f665f" stroke-width="1.3" />
<rect x="614.6" y="433.4" width="32.8" height="5.2" fill="#fff" stroke="#5f665f" stroke-width="1.3" />
<text x="533.4" y="182.79999999999998" font-size="12.5" fill="#222222" font-weight="bold">18</text>
<polyline points="532,183 549.6,183 593,166.7" fill="none" stroke="#5a5a5a" stroke-width="1" />
<text x="542.8" y="207.2" font-size="12.5" fill="#222222" font-weight="bold">9</text>
<polyline points="537.4,207.4 555,207.4 602.5,189.8" fill="none" stroke="#5a5a5a" stroke-width="1" />
</svg>
<div class="lbl" style="left:108px;top:478.5px;">SB<i>–</i>3
SB<i>–</i>3<i>–</i>1
SB<i>–</i>4</div>
<div class="lbl" style="left:379px;top:465.3px;">SB<i>–</i>1
SB<i>–</i>1<i>–</i>2
SB<i>–</i>1<i>–</i>1
SB<i>–</i>1<i>–</i>3
SB<i>–</i>2
SB<i>–</i>2<i>–</i>1</div>
<div class="lbl" style="left:609px;top:478.5px;">SB<i>–</i>6
SB<i>–</i>7
SB<i>–</i>8</div>
<div class="b" style="left:73.5px;top:643px;width:31px;height:21px">1</div><div class="t" style="left:111.5px;top:643.5px;height:21px">泵头三通</div><div class="b" style="left:73.5px;top:664px;width:31px;height:22px">2</div><div class="t" style="left:111.5px;top:664.5px;height:22px">电缆（电源线）</div><div class="b" style="left:73.5px;top:686px;width:31px;height:21px">3</div><div class="t" style="left:111.5px;top:686.5px;height:21px">拉杆开关/按钮开关</div><div class="b" style="left:73.5px;top:707px;width:31px;height:21px">4</div><div class="t" style="left:111.5px;top:707.5px;height:21px">防爆电机/普通电机</div><div class="b" style="left:73.5px;top:728px;width:31px;height:22px">5</div><div class="t" style="left:111.5px;top:728.5px;height:22px">联轴器（万向节）</div><div class="b" style="left:73.5px;top:750px;width:31px;height:21px">6</div><div class="t" style="left:111.5px;top:750.5px;height:21px">短轴</div><div class="b" style="left:277px;top:643px;width:35.7px;height:21px">7</div><div class="t" style="left:319.7px;top:643.5px;height:21px">深沟轴承</div><div class="b" style="left:277px;top:664px;width:35.7px;height:22px">8</div><div class="t" style="left:319.7px;top:664.5px;height:22px">骨架密封圈</div><div class="b" style="left:277px;top:686px;width:35.7px;height:21px">9</div><div class="t" style="left:319.7px;top:686.5px;height:21px">锁紧手轮</div><div class="b" style="left:277px;top:707px;width:35.7px;height:21px">10</div><div class="t" style="left:319.7px;top:707.5px;height:21px">锁紧出口</div><div class="b" style="left:277px;top:728px;width:35.7px;height:22px">11</div><div class="t" style="left:319.7px;top:728.5px;height:22px">泵外管</div><div class="b" style="left:277px;top:750px;width:35.7px;height:21px">12</div><div class="t" style="left:319.7px;top:750.5px;height:21px">泵小管</div><div class="b" style="left:448px;top:643px;width:50.5px;height:21px">13</div><div class="t" style="left:505.5px;top:643.5px;height:21px">主轴</div><div class="b" style="left:448px;top:664px;width:50.5px;height:22px">14</div><div class="t" style="left:505.5px;top:664.5px;height:22px">三角支架</div><div class="b" style="left:448px;top:686px;width:50.5px;height:21px">15</div><div class="t" style="left:505.5px;top:686.5px;height:21px">小骨架密封圈</div><div class="b" style="left:448px;top:707px;width:50.5px;height:21px">16</div><div class="t" style="left:505.5px;top:707.5px;height:21px">叶轮</div><div class="b" style="left:448px;top:728px;width:50.5px;height:22px">17</div><div class="t" style="left:505.5px;top:728.5px;height:22px">过滤网罩</div><div class="b" style="left:448px;top:750px;width:50.5px;height:21px">18</div><div class="t" style="left:505.5px;top:750.5px;height:21px">电机下端盖</div><div class="h" style="top:643px"></div><div class="h" style="top:664px"></div><div class="h" style="top:686px"></div><div class="h" style="top:707px"></div><div class="h" style="top:728px"></div><div class="h" style="top:750px"></div><div class="h" style="top:771px"></div><div class="v" style="left:73px"></div><div class="v" style="left:653px"></div>
</body></html>
